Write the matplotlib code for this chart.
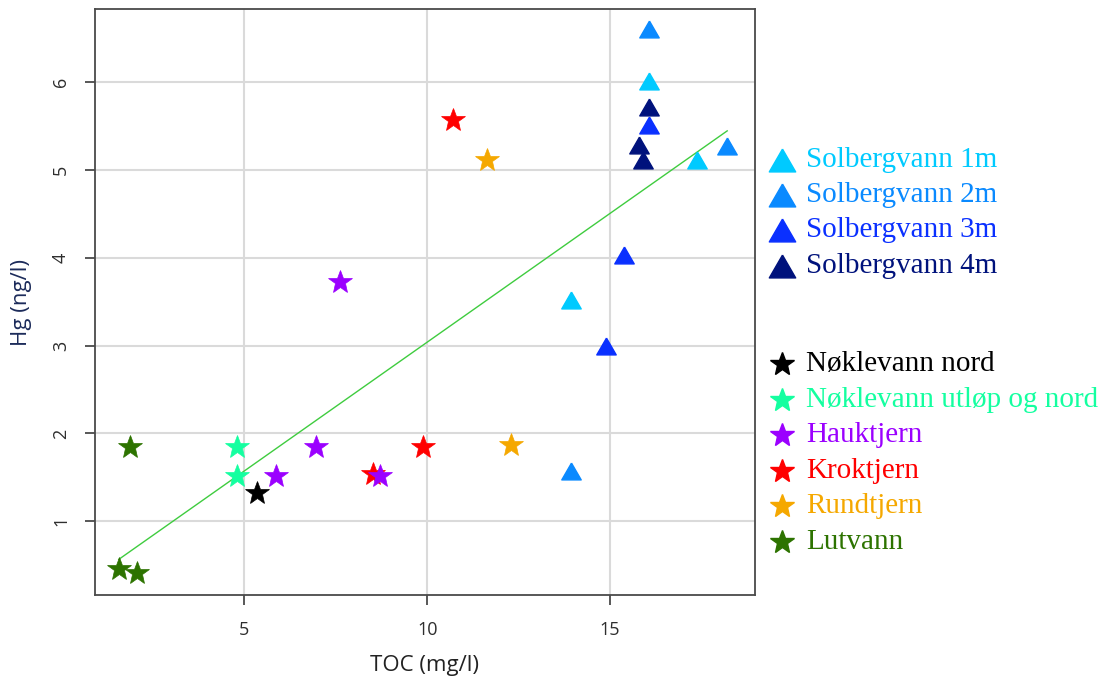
import matplotlib.pyplot as plt
from matplotlib.lines import Line2D
import numpy as np

# TOC (mg/l) and Hg (ng/l) per sampling site
sol1_toc = [16.05, 13.92, 17.38]
sol1_hg = [6.02, 3.52, 5.11]
sol2_toc = [16.05, 18.20, 13.92]
sol2_hg = [6.61, 5.28, 1.57]
sol3_toc = [16.05, 15.37, 14.90]
sol3_hg = [5.51, 4.03, 3.00]
sol4_toc = [16.05, 15.78, 15.89]
sol4_hg = [5.72, 5.29, 5.11]

nok_nord_toc = [5.36]
nok_nord_hg = [1.32]
nok_utlop_toc = [4.81, 4.81]
nok_utlop_hg = [1.85, 1.52]
krok_toc = [8.52, 9.88, 10.71]
krok_hg = [1.54, 1.85, 5.57]
hauk_toc = [5.86, 6.97, 8.72, 7.61]
hauk_hg = [1.52, 1.85, 1.52, 3.73]
rund_toc = [11.64, 12.30]
rund_hg = [5.11, 1.87]
lut_toc = [1.89, 1.57, 2.08]
lut_hg = [1.85, 0.46, 0.41]

# linear fit Hg ~ TOC
fit_intercept = 0.105
fit_slope = 0.2935

tri_names = ['Solbergvann 1m', 'Solbergvann 2m', 'Solbergvann 3m', 'Solbergvann 4m']
tri_colors = ['#00CAFF', '#0A8AFF', '#0A30FF', '#00127C']
tri_data = [(sol1_toc, sol1_hg), (sol2_toc, sol2_hg), (sol3_toc, sol3_hg), (sol4_toc, sol4_hg)]

star_names = ['Nøklevann nord', 'Nøklevann utløp og nord', 'Hauktjern',
              'Kroktjern', 'Rundtjern', 'Lutvann']
star_colors = ['#000000', '#14FFA0', '#9B00FF', '#FF0000', '#F5A800', '#2D7300']
star_data = [(nok_nord_toc, nok_nord_hg), (nok_utlop_toc, nok_utlop_hg),
             (hauk_toc, hauk_hg), (krok_toc, krok_hg), (rund_toc, rund_hg),
             (lut_toc, lut_hg)]

# equilateral triangle, like R's pch 17
tri = [(0, 0.866), (-1, -0.866), (1, -0.866), (0, 0.866)]

W, H = 1106, 686
fig = plt.figure(figsize=(W / 100, H / 100), dpi=100)
ax = fig.add_axes([95 / W, 1 - 595 / H, 660 / W, 586 / H])

ax.grid(True, color='#DADADA', lw=1.5)
ax.set_axisbelow(True)

for (x, y), c in zip(tri_data, tri_colors):
    ax.plot(x, y, ls='none', marker=tri, ms=14, color=c, mec=c)

# stars: draw Kroktjern before Hauktjern so the purple sits on top
order = [0, 1, 3, 2, 4, 5]
for i in order:
    x, y = star_data[i]
    ax.plot(x, y, ls='none', marker='*', ms=18, color=star_colors[i],
            mec=star_colors[i], mew=0.5)

all_toc = np.concatenate([d[0] for d in tri_data + star_data])
xs = np.array([all_toc.min(), all_toc.max()])
ax.plot(xs, fit_intercept + fit_slope * xs, color='#3FCC3F', lw=1.0, zorder=1.5)

ax.set_xlim(0.92, 18.96)
ax.set_ylim(0.16, 6.835)
ax.set_xticks([5, 10, 15])
ax.set_yticks([1, 2, 3, 4, 5, 6])
for s in ax.spines.values():
    s.set_color('#4A4A4A')
    s.set_linewidth(1.3)
ax.tick_params(length=7, width=1.3, color='#4A4A4A', labelcolor='#2E2E2E',
               labelsize=13)
ax.tick_params(axis='x', pad=12)
ax.tick_params(axis='y', pad=11)
for t in ax.get_xticklabels() + ax.get_yticklabels():
    t.set_family('Open Sans')
for t in ax.get_yticklabels():
    t.set_rotation(90)
    t.set_va('center')

fig.text(425 / W, 1 - 666 / H, 'TOC (mg/l)', family='Open Sans', fontsize=16,
         color='#222222', ha='center', va='center')
fig.text(22 / W, 1 - 303 / H, 'Hg (ng/l)', family='Open Sans', fontsize=16,
         color='#1C2B5A', ha='center', va='center', rotation=90)

# legend entries to the right of the plot
def legend_row(py, marker, ms, color, label):
    fig.add_artist(Line2D([782 / W], [1 - py / H], ls='none', marker=marker,
                          ms=ms, color=color, mec=color, transform=fig.transFigure))
    fig.text(806 / W, 1 - py / H, label, family='Liberation Serif', fontsize=21,
             color=color, ha='left', va='center')

for k, (name, c) in enumerate(zip(tri_names, tri_colors)):
    legend_row(160 + 35.2 * k, tri, 19, c, name)
for k, (name, c) in enumerate(zip(star_names, star_colors)):
    legend_row(364 + 35.6 * k, '*', 18, c, name)

fig.savefig('out.png', dpi=100)
